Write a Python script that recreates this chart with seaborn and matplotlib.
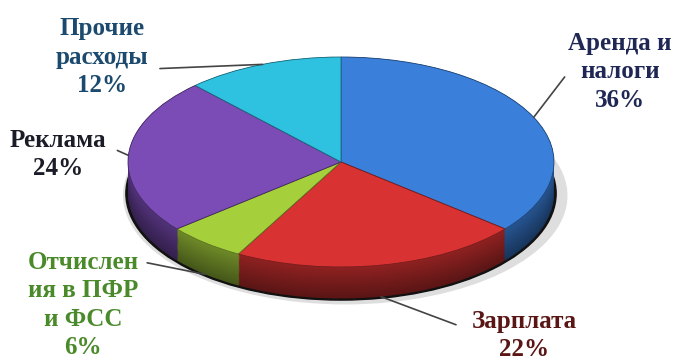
import numpy as np
import matplotlib
matplotlib.use("Agg")
import matplotlib.pyplot as plt
import seaborn as sns
from matplotlib.patches import Ellipse

# data
labels = ["Аренда и\nналоги\n36%", "Зарплата\n22%", "Отчислен\nия в ПФР\nи ФСС\n6%",
          "Реклама\n24%", "Прочие\nрасходы\n12%"]
values = [36, 22, 6, 24, 12]
colors = ["#3a7fd9", "#d83232", "#a6cf3c", "#7b4cb6", "#2fc1e0"]
text_colors = ["#1f2755", "#5a1515", "#4a8a2a", "#1c1c28", "#1b4a6e"]

sns.set_theme(style="white")
plt.rcParams['font.family'] = ['Liberation Serif', 'DejaVu Serif']

fig = plt.figure(figsize=(6.81, 3.63), dpi=100)
ax = fig.add_axes([0, 0, 1, 1])

depth = 0.30
n_layers = 30


def darken(c, f):
    r, g, b = matplotlib.colors.to_rgb(c)
    return (r * f, g * f, b * f)


# soft shadow under the pie
ax.add_patch(Ellipse((0.02, -depth - 0.02), 2.08, 2.06, color="#dedede", zorder=0))
ax.add_patch(Ellipse((0, -depth), 2.02, 2.03, color="#111111", zorder=1))

# side wall, built up in layers
for i in range(n_layers):
    t = i / (n_layers - 1)
    side = [darken(c, 0.42 + 0.25 * t) for c in colors]
    ax.pie(values, colors=side, startangle=90, counterclock=False,
           center=(0, -depth * (1 - t)), radius=1,
           wedgeprops=dict(linewidth=0), frame=True)

# top face
wedges, _ = ax.pie(values, colors=colors, startangle=90, counterclock=False,
                   center=(0, 0), radius=1, wedgeprops=dict(linewidth=0.6), frame=True)
for w, c in zip(wedges, colors):
    w.set_edgecolor(darken(c, 0.55))

# map the circle onto an ellipse
rx_px, ry_px = 213, 105
cx_px, cy_px = 341, 162
ax.set_aspect('auto')
ax.set_xlim(-cx_px / rx_px, (681 - cx_px) / rx_px)
ax.set_ylim(-(363 - cy_px) / ry_px, cy_px / ry_px)
ax.axis('off')

# labels with leader lines
text_pos = [(1.31, 0.86), (0.86, -1.65), (-1.21, -1.36), (-1.33, 0.07), (-1.12, 1.0)]
elbow = [(1.05, 0.81), (0.54, -1.55), (-0.91, -0.96), (-1.05, 0.11), (-0.85, 0.89)]
angles = []
start = 90.0
for v in values:
    span = 360.0 * v / sum(values)
    angles.append(np.deg2rad(start - span / 2))
    start -= span

for i, (lab, a) in enumerate(zip(labels, angles)):
    px, py = np.cos(a), np.sin(a)
    if py < 0:
        py -= depth
    ex, ey = elbow[i]
    ax.plot([px, ex], [py, ey], color="#444444", lw=1.2, zorder=5)
    tx, ty = text_pos[i]
    ax.text(tx, ty, lab, ha="center", va="center", fontsize=18, fontweight="bold",
            color=text_colors[i], linespacing=1.3, zorder=6)

fig.savefig("out.png", dpi=100)
